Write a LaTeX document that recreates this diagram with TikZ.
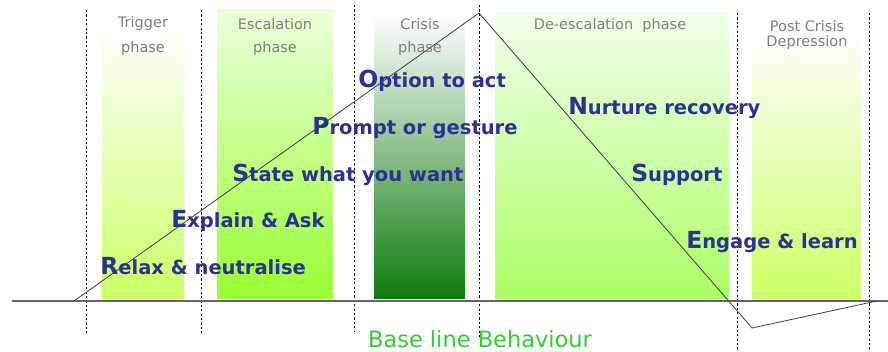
\documentclass[tikz,border=0pt]{standalone}
\usepackage{fontspec}
\setmainfont{DejaVu Sans}
\usetikzlibrary{calc}

\definecolor{actblue}{RGB}{46,49,146}
\definecolor{phasegray}{RGB}{128,128,128}
\definecolor{basegreen}{RGB}{51,204,51}
\definecolor{lime}{RGB}{204,255,102}
\definecolor{brightlime}{RGB}{153,255,51}
\definecolor{palelime}{RGB}{236,255,220}
\definecolor{crisisgreen}{RGB}{12,122,12}
\definecolor{deescgreen}{RGB}{170,255,100}
\definecolor{deesctop}{RGB}{242,255,236}

\newcommand{\act}[2]{{\fontsize{23.5}{23.5}\selectfont #1}{\fontsize{19.5}{19.5}\selectfont #2}}

\begin{document}
\begin{tikzpicture}[
		x=1pt,y=-1pt,
		semithick,
		phase/.style={text=phasegray,font=\fontsize{14.5}{17}\selectfont,inner sep=0pt,align=center},
		step0/.style={text=actblue,font=\bfseries,inner sep=0pt,anchor=base west},
		sep/.style={black,line width=0.8pt,dash pattern=on 2.2pt off 2.2pt}
		]
		\useasboundingbox (0,0) rectangle (888,352);
		% phase bars
		\shade[top color=white,bottom color=lime] (102,25) rectangle (184,299);
		\shade[top color=palelime,bottom color=brightlime] (217,10) rectangle (333,299);
		\shade[top color=white,bottom color=crisisgreen] (374,15) rectangle (465,299);
		\shade[top color=deesctop,bottom color=deescgreen] (495,13) rectangle (729,299);
		\shade[top color=white,bottom color=lime] (752,28) rectangle (861,299);
		
		\node[phase](trig) at (143,24){Trigger};
		\node[phase](trig2) at (143,49){phase};
		\node[phase](esc) at (275,24){Escalation};
		\node[phase](esc2) at (275,49){phase};
		\node[phase](cri) at (420,24){Crisis};
		\node[phase](cri2) at (420,49){phase};
		\node[phase](desc) at (610,26){De-escalation\ \ phase};
		\node[phase](post) at (807,26){Post Crisis};
		\node[phase](post2) at (807,43){Depression};
		
		% dividers
		\foreach \x/\a/\b in {86/10/335,201/10/335,354/5/332,479/5/337,737/13/352,869/13/352}
		\draw[sep] (\x,\a) -- (\x,\b);
		
		% base line
		\coordinate (bl0) at (12,301);
		\coordinate (bl1) at (888,301);
		\draw[black!60,line width=1.1pt] (bl0) -- (bl1);
		
		% behaviour curve
		\coordinate (c0) at (74,301);
		\coordinate (peak) at (479,13);
		\coordinate (dip) at (752,328);
		\coordinate (c1) at (877,301);
		\draw[black!75,line width=0.8pt] (c0) -- (peak) -- (dip) -- (c1);
		
		\node[step0](relax) at (100,275){\act{R}{elax \& neutralise}};
		\node[step0](explain) at (171,228){\act{E}{xplain \& Ask}};
		\node[step0](state) at (232,182){\act{S}{tate what you want}};
		\node[step0](prompt) at (312,135){\act{P}{rompt or gesture}};
		\node[step0](option) at (358,88){\act{O}{ption to act}};
		\node[step0](nurture) at (568,115){\act{N}{urture recovery}};
		\node[step0](support) at (631,182){\act{S}{upport}};
		\node[step0](engage) at (686,249){\act{E}{ngage \& learn}};
		
		\node[text=basegreen,font=\fontsize{22.5}{22.5}\selectfont,inner sep=0pt,anchor=base](base) at (480,347){Base line Behaviour};
		
		\end{tikzpicture}
\end{document}
